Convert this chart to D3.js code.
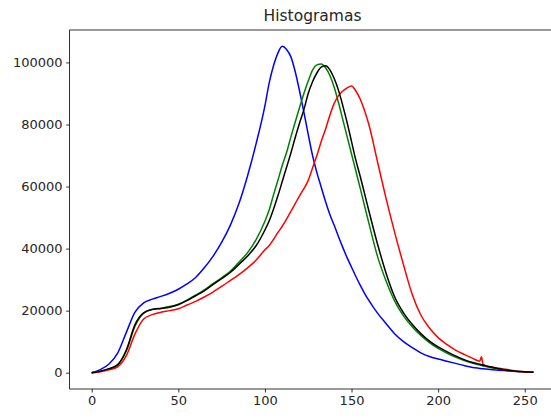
<html>
 <head>
   <meta charset="UTF-8">
   <title>Histogramas</title>
   <script src="https://d3js.org/d3.v7.min.js"></script>
   <style>
     body { margin: 0; background: #fff; }
     text { font-family: "DejaVu Sans", sans-serif; fill: #262626; }
   </style>
 </head>
 <body>
   <div id="chart"></div>

   <script>
   // intensity levels (x) shared by every channel, finer around the peaks
   var levels = [0,5,10,15,20,25,30,35,40,45,50,55,60,65,70,75,80,85,90,95,
     100,102.5,105,107.5,110,112.5,115,117.5,120,122.5,125,127.5,130,132.5,135,137.5,140,142.5,145,147.5,
     150,152.5,155,157.5,160,
     165,170,175,180,185,190,195,200,205,210,215,220,224,225,226,230,235,240,245,250,255];

   var blueCounts = [0,1000,2800,6300,13000,19500,22500,23700,24600,25600,26900,28600,30700,33800,37500,42000,47500,54500,63500,74000,
     86000,93500,99000,103000,105200,104200,101800,97000,90800,84000,76800,70000,64500,59800,55200,51000,47500,43800,40300,37000,
     34000,31000,28200,25600,23300,
     19200,15800,12500,10000,8100,6400,5200,4400,3700,3000,2300,1700,1380,1300,1240,1000,800,600,400,250,100];

   var greenCounts = [0,400,1200,2500,7000,15000,19200,20400,20800,21300,22100,23400,25000,26700,28700,30600,32700,35600,38700,43000,
     48800,52500,57400,62000,66800,71000,76000,80800,85500,90000,94000,97500,99200,99500,98300,95800,92000,87000,81500,76000,
     70500,65000,59500,53800,48200,
     37500,29500,23000,18300,14800,12000,9700,7800,6300,5000,3900,3000,2440,2300,2160,1700,1200,700,450,250,100];

   var redCounts = [0,300,900,1900,5500,12500,17300,18700,19500,20000,20600,21800,23000,24400,26000,27800,29700,31600,33800,36300,
     39600,41000,43000,45200,47200,49500,52000,54500,57000,59300,62000,66000,70000,74500,78500,83000,86800,89300,90800,91800,
     92400,90800,88200,84500,80000,
     68000,56000,45000,34800,25300,18600,14400,11300,9100,7300,5900,4600,3700,5100,2600,1900,1400,1000,500,250,100];

   var grayCounts = [0,500,1300,2600,7300,15500,19300,20400,20700,21100,21900,23200,24800,26400,28400,30300,32300,34900,37600,41000,
     46000,49000,52800,57000,61600,66200,70800,75800,80500,84800,90000,93800,96600,98500,98900,97600,94800,91000,86000,80500,
     74500,68500,63300,57800,52200,
     41500,32000,24300,19300,15600,12600,10200,8300,6800,5400,4200,3300,2740,2600,2460,1900,1300,800,500,300,100];

   var xTicks = [0,50,100,150,200,250];
   var yTicks = [0,20000,40000,60000,80000,100000];

   var series = [
     {name: "b", color: "#0000ff", values: blueCounts},
     {name: "g", color: "#008000", values: greenCounts},
     {name: "r", color: "#ff0000", values: redCounts},
     {name: "k", color: "#000000", values: grayCounts}
   ];

   var W = 551, H = 419;
   var margin = {top: 30, right: -4.5, bottom: 30, left: 69.6};
   var width = W - margin.left - margin.right,
       height = H - margin.top - margin.bottom;

   var svg = d3.select("#chart").append("svg")
     .attr("width", W)
     .attr("height", H);

   var g = svg.append("g")
     .attr("transform", "translate(" + margin.left + "," + margin.top + ")");

   var xScale = d3.scaleLinear()
     .domain([-12.75, 267.75])
     .range([0, width]);

   var yScale = d3.scaleLinear()
     .domain([-5260, 110460])
     .range([height, 0]);

   var line = d3.line()
     .x(function(d, i){ return xScale(levels[i]); })
     .y(function(d){ return yScale(d); })
     .curve(d3.curveMonotoneX);

   g.selectAll(".hist")
     .data(series)
     .enter().append("path")
     .attr("class", "hist")
     .attr("d", function(s){ return line(s.values); })
     .attr("fill", "none")
     .attr("stroke", function(s){ return s.color; })
     .attr("stroke-width", 1.5)
     .attr("stroke-linejoin", "round");

   // axes
   var xAxis = d3.axisBottom(xScale).tickValues(xTicks).tickSize(3.5).tickPadding(3.5);
   var yAxis = d3.axisLeft(yScale).tickValues(yTicks).tickSize(3.5).tickPadding(3.5)
     .tickFormat(d3.format("d"));

   var gx = g.append("g")
     .attr("transform", "translate(0," + height + ")")
     .call(xAxis);
   var gy = g.append("g").call(yAxis);

   [gx, gy].forEach(function(a){
     a.select(".domain").remove();
     a.selectAll(".tick line").attr("stroke", "#000").attr("stroke-width", 0.8);
     a.selectAll(".tick text")
       .style("font-family", "DejaVu Sans")
       .style("font-size", "13px")
       .attr("fill", "#262626");
   });

   // spines
   g.append("rect")
     .attr("width", width)
     .attr("height", height)
     .attr("fill", "none")
     .attr("stroke", "#000")
     .attr("stroke-width", 0.8);

   svg.append("text")
     .attr("x", margin.left + width / 2)
     .attr("y", 21)
     .attr("text-anchor", "middle")
     .style("font-size", "15.5px")
     .attr("fill", "#000")
     .text("Histogramas");
   </script>
 </body>
</html>
